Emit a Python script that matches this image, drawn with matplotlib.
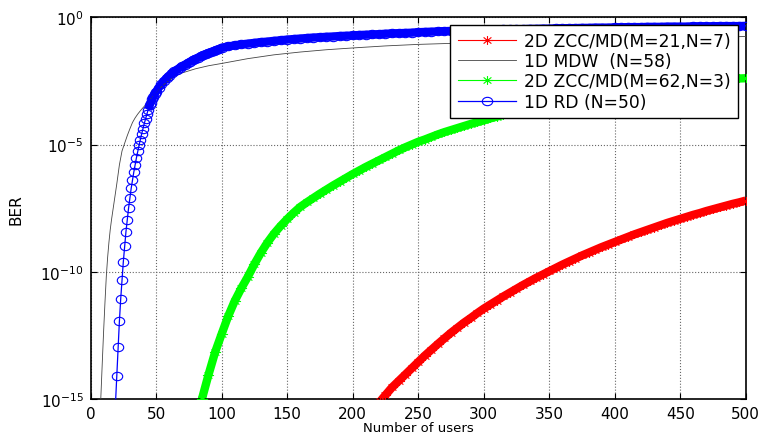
import numpy as np
import matplotlib
matplotlib.use("Agg")
import matplotlib.pyplot as plt
from matplotlib.path import Path
from matplotlib.transforms import Affine2D

plt.rcParams['font.family'] = ['DejaVu Sans']
plt.rcParams['mathtext.fontset'] = 'dejavusans'

zcc21_users = [221, 225, 230, 235, 240, 245, 250, 255, 260, 265, 270, 275, 280, 285, 290,
               295, 300, 305, 310, 315, 320, 325, 330, 335, 340, 345, 350, 355, 360, 365,
               370, 375, 380, 385, 390, 395, 400, 405, 410, 415, 420, 425, 430, 435, 440,
               445, 450, 455, 460, 465, 470, 475, 480, 485, 490, 495, 500]
zcc21_logber = [-15.1, -14.85, -14.55, -14.3, -14.05, -13.8, -13.55, -13.3, -13.07, -12.84,
                -12.62, -12.4, -12.2, -12.0, -11.82, -11.63, -11.45, -11.29, -11.13, -10.97,
                -10.82, -10.67, -10.52, -10.38, -10.24, -10.11, -9.98, -9.85, -9.72, -9.6,
                -9.48, -9.36, -9.25, -9.14, -9.03, -8.93, -8.83, -8.73, -8.63, -8.53, -8.44,
                -8.35, -8.26, -8.17, -8.08, -8.0, -7.92, -7.84, -7.76, -7.69, -7.61, -7.54,
                -7.47, -7.4, -7.33, -7.27, -7.2]

mdw_users = [7, 8, 9, 10, 11, 12, 13, 14, 15, 16, 17, 18, 20, 22, 24, 26, 28, 30, 32, 34,
             36, 38, 40, 42, 45, 50, 55, 60, 65, 70, 80, 90, 100, 120, 140, 160, 180, 200,
             225, 250, 275, 300, 350, 400, 450, 500]
mdw_logber = [-16.0, -14.75, -13.5, -12.3, -11.2, -10.2, -9.45, -8.85, -8.35, -7.95, -7.6,
              -7.25, -6.55, -5.8, -5.25, -4.95, -4.65, -4.38, -4.13, -3.95, -3.8, -3.67,
              -3.55, -3.44, -3.25, -2.95, -2.68, -2.47, -2.3, -2.18, -2.02, -1.9, -1.81,
              -1.62, -1.47, -1.36, -1.27, -1.2, -1.12, -1.06, -1.02, -0.98, -0.91, -0.85,
              -0.8, -0.75]

zcc62_users = [84, 85, 90, 95, 100, 105, 110, 115, 120, 125, 130, 135, 140, 145, 150, 155,
               160, 165, 170, 175, 180, 185, 190, 195, 200, 205, 210, 215, 220, 225, 230,
               235, 240, 245, 250, 255, 260, 265, 270, 275, 280, 285, 290, 295, 300, 305,
               310, 315, 320, 325, 330, 335, 340, 345, 350, 355, 360, 365, 370, 375, 380,
               385, 390, 395, 400, 405, 410, 415, 420, 425, 430, 435, 440, 445, 450, 455,
               460, 465, 470, 475, 480, 485, 490, 495, 500]
zcc62_logber = [-15.2, -15.0, -14.05, -13.17, -12.45, -11.75, -11.15, -10.65, -10.2, -9.7,
                -9.25, -8.85, -8.5, -8.2, -7.93, -7.68, -7.45, -7.27, -7.1, -6.93, -6.77,
                -6.61, -6.46, -6.31, -6.16, -6.02, -5.88, -5.75, -5.62, -5.49, -5.36, -5.23,
                -5.11, -5.0, -4.89, -4.8, -4.7, -4.6, -4.51, -4.43, -4.35, -4.27, -4.19,
                -4.12, -4.05, -3.97, -3.9, -3.83, -3.77, -3.71, -3.65, -3.59, -3.53, -3.47,
                -3.42, -3.37, -3.31, -3.26, -3.21, -3.16, -3.11, -3.07, -3.02, -2.98, -2.94,
                -2.9, -2.86, -2.82, -2.78, -2.75, -2.71, -2.68, -2.65, -2.62, -2.59, -2.56,
                -2.53, -2.51, -2.48, -2.46, -2.44, -2.42, -2.41, -2.40, -2.39]

rd_users = [19, 20, 21, 22, 23, 24, 25, 26, 27, 28, 29, 30, 31, 32, 33, 34, 35, 36, 37, 38,
            39, 40, 41, 42, 43, 44, 45, 46, 47, 48, 49, 50, 52, 54, 56, 58, 60, 62, 64, 66,
            68, 70, 72, 74, 76, 78, 80, 82, 84, 86, 88, 90, 92, 94, 96, 98, 100, 105, 110,
            115, 120, 125, 130, 135, 140, 145, 150, 155, 160, 165, 170, 175, 180, 185, 190,
            195, 200, 205, 210, 215, 220, 225, 230, 235, 240, 245, 250, 255, 260, 265, 270,
            275, 280, 285, 290, 295, 300, 305, 310, 315, 320, 325, 330, 335, 340, 345, 350,
            355, 360, 365, 370, 375, 380, 385, 390, 395, 400, 405, 410, 415, 420, 425, 430,
            435, 440, 445, 450, 455, 460, 465, 470, 475, 480, 485, 490, 495, 500]
rd_logber = [-15.2, -14.09, -12.95, -11.95, -11.07, -10.33, -9.61, -9.0, -8.43, -7.97, -7.5,
             -7.1, -6.72, -6.4, -6.08, -5.8, -5.52, -5.27, -5.03, -4.8, -4.58, -4.37, -4.17,
             -3.98, -3.8, -3.62, -3.46, -3.35, -3.22, -3.11, -3.0, -2.92, -2.77, -2.63,
             -2.5, -2.39, -2.29, -2.2, -2.12, -2.05, -1.98, -1.92, -1.86, -1.8, -1.74,
             -1.68, -1.63, -1.58, -1.53, -1.48, -1.44, -1.4, -1.36, -1.32, -1.28, -1.24,
             -1.19, -1.14, -1.1, -1.06, -1.03, -1.0, -0.97, -0.95, -0.92, -0.9, -0.87,
             -0.85, -0.83, -0.81, -0.79, -0.78, -0.76, -0.75, -0.73, -0.72, -0.71, -0.69,
             -0.68, -0.67, -0.66, -0.64, -0.63, -0.62, -0.61, -0.6, -0.58, -0.57, -0.56,
             -0.55, -0.54, -0.53, -0.52, -0.52, -0.51, -0.5, -0.49, -0.49, -0.48, -0.47,
             -0.47, -0.46, -0.46, -0.45, -0.45, -0.44, -0.44, -0.43, -0.43, -0.42, -0.42,
             -0.41, -0.41, -0.4, -0.4, -0.4, -0.39, -0.39, -0.38, -0.38, -0.38, -0.37,
             -0.37, -0.37, -0.36, -0.36, -0.36, -0.36, -0.35, -0.35, -0.35, -0.35, -0.34,
             -0.34, -0.34, -0.34, -0.33]

x_ticks = [0, 50, 100, 150, 200, 250, 300, 350, 400, 450, 500]
y_ticks = [1e-15, 1e-10, 1e-5, 1e0]
y_ticklabels = [r'$\mathregular{10^{-15}}$', r'$\mathregular{10^{-10}}$',
                r'$\mathregular{10^{-5}}$', r'$\mathregular{10^{0}}$']

# MATLAB style markers, a bit squashed like in the picture
ell = Path.unit_circle().transformed(Affine2D().scale(1.0, 0.8))
ast_verts = [(-1, 0), (1, 0), (0, -1), (0, 1), (-0.7, -0.7), (0.7, 0.7), (-0.7, 0.7), (0.7, -0.7)]
ast = Path(ast_verts, [Path.MOVETO, Path.LINETO] * 4).transformed(Affine2D().scale(1.0, 0.8))

red_x = np.array(zcc21_users)
red_y = 10.0 ** np.array(zcc21_logber)
grn_x = np.array(zcc62_users)
grn_y = 10.0 ** np.array(zcc62_logber)
blu_x = np.array(rd_users)
blu_y = 10.0 ** np.array(rd_logber)

fig = plt.figure(figsize=(7.61, 4.39), dpi=100)
ax = fig.add_axes([0.119, 0.089, 0.861, 0.869])

# the markers in the original sit so close they merge into a thick band
ax.semilogy(red_x, red_y, color='red', lw=6, solid_capstyle='butt', zorder=2)
ax.semilogy(grn_x, grn_y, color='#00ff00', lw=6, solid_capstyle='butt', zorder=2)
dense = blu_x >= 44
ax.semilogy(blu_x[dense], blu_y[dense], color='blue', lw=6, solid_capstyle='butt', zorder=2)

ax.semilogy(red_x, red_y, color='red', lw=0.8, marker=ast, markersize=8,
            markeredgewidth=0.8, markerfacecolor='none', label='2D ZCC/MD(M=21,N=7)', zorder=3)
ax.semilogy(mdw_users, 10.0 ** np.array(mdw_logber), color='#444444', lw=0.6,
            label='1D MDW  (N=58)', zorder=3)
ax.semilogy(grn_x, grn_y, color='#00ff00', lw=0.8, marker=ast, markersize=8,
            markeredgewidth=0.8, markerfacecolor='none', label='2D ZCC/MD(M=62,N=3)', zorder=3)
ax.semilogy(blu_x, blu_y, color='blue', lw=0.9, marker=ell, markersize=7.5,
            markeredgewidth=0.8, markerfacecolor='none', label='1D RD (N=50)', zorder=3)

ax.set_xlim(0, 500)
ax.set_ylim(1e-15, 1e0)
ax.set_xticks(x_ticks)
ax.set_yticks(y_ticks)
ax.set_yticklabels(y_ticklabels)
ax.yaxis.set_minor_locator(matplotlib.ticker.NullLocator())
ax.tick_params(direction='in', top=True, right=True, length=4, width=0.8,
               labelsize=11, pad=5)
ax.grid(True, which='major', linestyle=':', color='#666666', lw=0.8)
for s in ax.spines.values():
    s.set_linewidth(1.2)

ax.set_xlabel('Number of users', fontsize=9.5, labelpad=0)
ax.set_ylabel('BER', fontsize=11, labelpad=12)

leg = ax.legend(loc='upper right', bbox_to_anchor=(0.9885, 0.981), borderaxespad=0,
                fontsize=12.3, handlelength=3.4, handletextpad=0.45, labelspacing=0.12,
                borderpad=0.45, fancybox=False, framealpha=1, edgecolor='black')
leg.get_frame().set_linewidth(1.0)

fig.savefig('out.png', dpi=100)
